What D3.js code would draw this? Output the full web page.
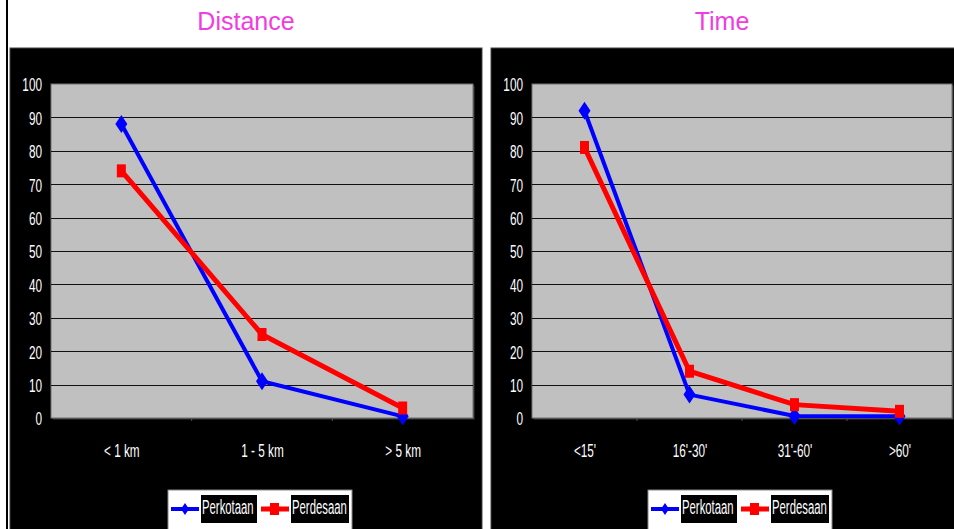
<!DOCTYPE html>
<html>
<head>
<meta charset="utf-8">
<script src="https://cdn.jsdelivr.net/npm/d3@7"></script>
<style>
  html, body { margin: 0; padding: 0; background: #fff; }
  svg { display: block; }
  .num { font-family: "Liberation Sans", Arial, sans-serif; }
</style>
</head>
<body>
<svg id="chart" width="954" height="529"></svg>
<script>
// Share of trips by distance and by travel time, urban vs rural
const seriesNames = ["Perkotaan", "Perdesaan"];
const seriesColors = ["#0000ff", "#ff0000"];

const distanceCategories = ["< 1 km", "1 - 5 km", "> 5 km"];
const distancePerkotaan = [88, 11, 0.5];
const distancePerdesaan = [74, 25, 3];

const timeCategories = ["<15'", "16'-30'", "31'-60'", ">60'"];
const timePerkotaan = [92, 7, 0.6, 0.5];
const timePerdesaan = [81, 14, 4, 2];

const yTicks = [0, 10, 20, 30, 40, 50, 60, 70, 80, 90, 100];

// condensed look for axis and legend text
const SQUEEZE = "scale(0.62,1)";
const FS = 19;
const LEG_SQUEEZE = "scale(0.54,1)";
const LEG_FS = 21;

const svg = d3.select("#chart");

// thin rule along the left edge
svg.append("rect").attr("x", 6).attr("y", 0).attr("width", 2).attr("height", 529).attr("fill", "#000");

function drawPanel(cfg) {
  const g = svg.append("g");

  // title
  g.append("text")
    .attr("x", cfg.titleX).attr("y", 30)
    .attr("text-anchor", "middle")
    .attr("font-family", "Liberation Sans, Arial, sans-serif")
    .attr("font-size", 25)
    .attr("fill", "#f03ce0")
    .text(cfg.title);

  // black chart area
  g.append("rect")
    .attr("x", cfg.boxX0).attr("y", 48)
    .attr("width", cfg.boxX1 - cfg.boxX0).attr("height", 529 - 48 + 2)
    .attr("fill", "#000").attr("stroke", "#444").attr("stroke-width", 1);

  const x = d3.scalePoint().domain(cfg.categories).range([cfg.px0, cfg.px1]).padding(0.5);
  const band = (cfg.px1 - cfg.px0) / cfg.categories.length;
  const y = d3.scaleLinear().domain([0, 100]).range([418, 84]);

  // plot area with its shadow
  g.append("rect")
    .attr("x", cfg.px0 + 1.5).attr("y", y(100) + 1.5)
    .attr("width", cfg.px1 - cfg.px0).attr("height", y(0) - y(100))
    .attr("fill", "#3a3a3a");
  g.append("rect")
    .attr("x", cfg.px0).attr("y", y(100))
    .attr("width", cfg.px1 - cfg.px0).attr("height", y(0) - y(100))
    .attr("fill", "#c0c0c0").attr("stroke", "#707070").attr("stroke-width", 1);

  // gridlines
  g.selectAll("line.grid").data(yTicks.filter(d => d > 0 && d < 100)).join("line")
    .attr("x1", cfg.px0).attr("x2", cfg.px1)
    .attr("y1", d => Math.round(y(d)) + 0.5).attr("y2", d => Math.round(y(d)) + 0.5)
    .attr("stroke", "#111").attr("stroke-width", 1);

  // y axis labels
  const yAxis = d3.axisLeft(y).tickValues(yTicks).tickSize(0).tickPadding(0);
  const ya = g.append("g").attr("transform", `translate(${cfg.px0 - 9},0)`).call(yAxis);
  ya.select(".domain").remove();
  ya.selectAll("text")
    .attr("class", "num")
    .attr("font-size", FS).attr("fill", "#fff")
    .attr("dy", "0.36em")
    .attr("transform", SQUEEZE);

  // category ticks along the base
  g.selectAll("line.xt").data(d3.range(1, cfg.categories.length)).join("line")
    .attr("x1", i => cfg.px0 + i * band).attr("x2", i => cfg.px0 + i * band)
    .attr("y1", y(0)).attr("y2", y(0) + 3)
    .attr("stroke", "#555");

  // x axis labels
  const xAxis = d3.axisBottom(x).tickSize(0).tickPadding(0);
  const xa = g.append("g").attr("transform", `translate(0,${y(0) + 39})`).call(xAxis);
  xa.select(".domain").remove();
  xa.selectAll("text")
    .attr("class", "num")
    .attr("font-size", FS).attr("fill", "#fff")
    .attr("dy", "0")
    .attr("transform", SQUEEZE);

  const series = [cfg.perkotaan, cfg.perdesaan];
  const line = d3.line().x((d, i) => x(cfg.categories[i])).y(d => y(d));

  // Perkotaan line
  g.append("path").datum(series[0]).attr("d", line)
    .attr("fill", "none").attr("stroke", seriesColors[0]).attr("stroke-width", 4)
    .attr("stroke-linejoin", "miter");
  // Perdesaan line
  g.append("path").datum(series[1]).attr("d", line)
    .attr("fill", "none").attr("stroke", seriesColors[1]).attr("stroke-width", 5)
    .attr("stroke-linejoin", "miter");

  // markers: diamonds for Perkotaan, squares for Perdesaan
  const diamond = "M0,-9 L6,0 L0,9 L-6,0 Z";
  g.selectAll("path.dm").data(series[0]).join("path")
    .attr("d", diamond)
    .attr("transform", (d, i) => `translate(${x(cfg.categories[i])},${y(d)})`)
    .attr("fill", seriesColors[0]);
  g.selectAll("rect.sq").data(series[1]).join("rect")
    .attr("x", (d, i) => x(cfg.categories[i]) - 4.5).attr("y", d => y(d) - 6.5)
    .attr("width", 9).attr("height", 13)
    .attr("fill", seriesColors[1]);

  // legend
  const lg = g.append("g").attr("transform", `translate(${cfg.legendX},490)`);
  lg.append("rect").attr("x", 0).attr("y", 0).attr("width", 184).attr("height", 42)
    .attr("fill", "#fff").attr("stroke", "#888").attr("stroke-width", 1);
  // Perkotaan key
  lg.append("line").attr("x1", 3).attr("x2", 31).attr("y1", 19).attr("y2", 19)
    .attr("stroke", seriesColors[0]).attr("stroke-width", 4);
  lg.append("path").attr("d", "M0,-6 L4,0 L0,6 L-4,0 Z").attr("transform", "translate(17,19)").attr("fill", seriesColors[0]);
  lg.append("rect").attr("x", 33).attr("y", 5).attr("width", 56).attr("height", 28).attr("fill", "#000");
  lg.append("text").attr("class", "num").attr("transform", `translate(34,24) ${LEG_SQUEEZE}`)
    .attr("font-size", LEG_FS).attr("fill", "#fff").text(seriesNames[0]);
  // Perdesaan key
  lg.append("line").attr("x1", 93).attr("x2", 121).attr("y1", 19).attr("y2", 19)
    .attr("stroke", seriesColors[1]).attr("stroke-width", 5);
  lg.append("rect").attr("x", 102).attr("y", 13).attr("width", 9).attr("height", 12).attr("fill", seriesColors[1]);
  lg.append("rect").attr("x", 123).attr("y", 5).attr("width", 58).attr("height", 28).attr("fill", "#000");
  lg.append("text").attr("class", "num").attr("transform", `translate(124,24) ${LEG_SQUEEZE}`)
    .attr("font-size", LEG_FS).attr("fill", "#fff").text(seriesNames[1]);
}

drawPanel({
  title: "Distance", titleX: 246,
  boxX0: 10, boxX1: 482, px0: 51, px1: 473,
  categories: distanceCategories, perkotaan: distancePerkotaan, perdesaan: distancePerdesaan,
  legendX: 168
});
drawPanel({
  title: "Time", titleX: 722,
  boxX0: 491, boxX1: 956, px0: 532, px1: 952,
  categories: timeCategories, perkotaan: timePerkotaan, perdesaan: timePerdesaan,
  legendX: 648
});
</script>
</body>
</html>
